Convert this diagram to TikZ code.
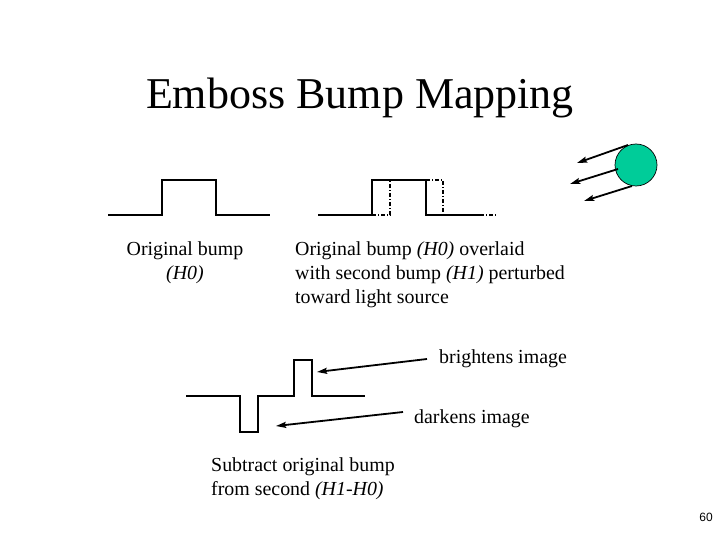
\documentclass[tikz,border=0pt]{standalone}
\usepackage{fontspec}
\setmainfont{Liberation Serif}
\newfontfamily\numfont{Liberation Sans}
\usetikzlibrary{arrows.meta}
\definecolor{lightgreen}{RGB}{0,204,153}
\tikzset{
  bump/.style={line width=2pt, line join=miter},
  ghost/.style={line width=1.6pt, dash pattern=on 4pt off 2pt on 1pt off 2pt},
  pointer/.style={line width=1.8pt, -{Stealth[length=10pt,width=6pt,inset=1.5pt]}},
  body/.style={inner sep=0pt, font=\fontsize{19.9}{24}\selectfont, align=left},
}
\begin{document}
\begin{tikzpicture}[x=1pt,y=-1pt]
\useasboundingbox[fill=white] (0,0) rectangle (720,540);

% title
\node[inner sep=0pt, font=\fontsize{44}{50}\selectfont, anchor=base] (title) at (360,109) {Emboss Bump Mapping};

% bump 1 (H0)
\coordinate (a0) at (108,215);
\coordinate (a1) at (270,215);
\draw[bump] (a0) -- (162,215) -- (162,180) -- (216,180) -- (216,215) -- (a1);

% bump 2 (H0 solid, H1 dash-dot)
\coordinate (b0) at (318,215);
\coordinate (b1) at (480,215);
\draw[bump] (b0) -- (372,215) -- (372,180) -- (426,180) -- (426,215) -- (b1);
\draw[ghost] (372,215) -- (390,215) -- (390,180);
\draw[ghost] (426,180) -- (443,180) -- (443,215);
\draw[ghost] (480,215) -- (497,215);

% light source
\node[circle, draw=black, line width=0.7pt, fill=lightgreen, minimum size=42pt, inner sep=0pt] (light) at (636,165) {};
\coordinate (l1) at (628,145);
\coordinate (l2) at (618,169);
\coordinate (l3) at (632,186);
\coordinate (t1) at (577,163);
\coordinate (t2) at (570,184);
\coordinate (t3) at (584,201);
\draw[pointer] (l1) -- (t1);
\draw[pointer] (l2) -- (t2);
\draw[pointer] (l3) -- (t3);

% labels
\node[body, anchor=north, align=center] (lab1) at (185,241) {Original bump\\\textit{(H0)}};
\node[body, anchor=north west] (lab2) at (295,241) {Original bump \textit{(H0)} overlaid\\with second bump \textit{(H1)} perturbed\\toward light source};

% difference H1-H0
\coordinate (c0) at (186,396);
\coordinate (c1) at (365,396);
\draw[bump] (c0) -- (240,396) -- (240,432) -- (258,432) -- (258,396) -- (294,396) -- (294,360) -- (312,360) -- (312,396) -- (c1);

\node[body, anchor=base west] (bright) at (439,363) {brightens image};
\node[body, anchor=base west] (dark) at (414,423) {darkens image};
\coordinate (bt) at (427,359);
\coordinate (bh) at (317,372);
\coordinate (dt) at (403,412);
\coordinate (dh) at (276,426);
\draw[pointer] (bt) -- (bh);
\draw[pointer] (dt) -- (dh);

\node[body, anchor=north west] (lab3) at (211,457) {Subtract original bump\\from second \textit{(H1-H0)}};

\node[inner sep=0pt, font=\numfont\fontsize{12}{14}\selectfont, anchor=base east] (page) at (713,521) {60};
\end{tikzpicture}
\end{document}
